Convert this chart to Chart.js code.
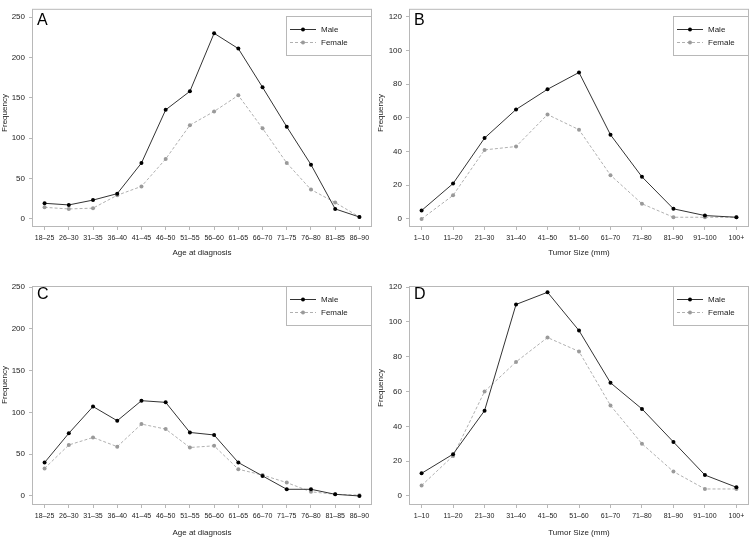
<!DOCTYPE html>
<html>
<head>
<meta charset="utf-8">
<script src="https://cdn.jsdelivr.net/npm/chart.js@4"></script>
<style>
  body { margin: 0; background: #fff; }
  #wrap { position: relative; width: 753px; height: 537px; }
  canvas { position: absolute; }
</style>
</head>
<body>
<div id="wrap">
  <canvas id="panelA" width="376" height="268" style="left:0;top:0"></canvas>
  <canvas id="panelB" width="377" height="268" style="left:376px;top:0"></canvas>
  <canvas id="panelC" width="376" height="269" style="left:0;top:268px"></canvas>
  <canvas id="panelD" width="377" height="269" style="left:376px;top:268px"></canvas>
</div>
<script>
// categorias
const ageGroups = ['18–25', '26–30', '31–35', '36–40', '41–45', '46–50', '51–55',
  '56–60', '61–65', '66–70', '71–75', '76–80', '81–85', '86–90'];
const sizeGroups = ['1–10', '11–20', '21–30', '31–40', '41–50', '51–60', '61–70',
  '71–80', '81–90', '91–100', '100+'];

// painel A
const ageMaleA = [19, 17, 23, 31, 69, 135, 158, 230, 211, 163, 114, 67, 12, 2];
const ageFemaleA = [14, 12, 13, 29, 40, 74, 116, 133, 153, 112, 69, 36, 20, 2];
// painel B
const sizeMaleB = [5, 21, 48, 65, 77, 87, 50, 25, 6, 2, 1];
const sizeFemaleB = [0, 14, 41, 43, 62, 53, 26, 9, 1, 1, 1];
// painel C
const ageMaleC = [40, 75, 107, 90, 114, 112, 76, 73, 40, 24, 8, 8, 2, 0];
const ageFemaleC = [33, 61, 70, 59, 86, 80, 58, 60, 32, 25, 16, 5, 2, 1];
// painel D
const sizeMaleD = [13, 24, 49, 110, 117, 95, 65, 50, 31, 12, 5];
const sizeFemaleD = [6, 23, 60, 77, 91, 83, 52, 30, 14, 4, 4];

// marcas do eixo y
const ageTicks = [0, 50, 100, 150, 200, 250];
const sizeTicks = [0, 20, 40, 60, 80, 100, 120];

const boxColor = '#b8b8b8';
const textColor = '#222';
const fontFamily = '"Liberation Sans", Arial, Helvetica, sans-serif';

Chart.defaults.font.family = fontFamily;
Chart.defaults.color = textColor;

// caixa, letra, titulo y e legenda no estilo R
const panelDecor = {
  id: 'panelDecor',
  beforeDatasetsDraw(chart) {
    const { ctx, chartArea: ca } = chart;
    ctx.save();
    ctx.strokeStyle = boxColor;
    ctx.lineWidth = 1;
    ctx.strokeRect(ca.left + 0.5, ca.top + 0.5, ca.right - ca.left - 1, ca.bottom - ca.top - 1);
    ctx.restore();
  },
  afterDatasetsDraw(chart, args, o) {
    const { ctx, chartArea: ca, scales } = chart;
    ctx.save();
    // letra do painel
    ctx.fillStyle = '#000';
    ctx.font = '16px ' + fontFamily;
    ctx.textBaseline = 'alphabetic';
    ctx.fillText(o.letter, ca.left + 5, ca.top + o.letterDy);

    // titulo do eixo y
    ctx.save();
    ctx.translate(5, o.yTitleY);
    ctx.rotate(-Math.PI / 2);
    ctx.fillStyle = textColor;
    ctx.font = '8px ' + fontFamily;
    ctx.textAlign = 'center';
    ctx.textBaseline = 'middle';
    ctx.fillText('Frequency', 0, 0);
    ctx.restore();

    // legenda
    const top = Math.round(scales.y.getPixelForValue(o.legendAt)) - 1;
    const left = Math.round(ca.right - o.legendWidth);
    const h = 39;
    ctx.fillStyle = '#fff';
    ctx.fillRect(left, top, o.legendWidth, h);
    ctx.strokeStyle = boxColor;
    ctx.strokeRect(left + 0.5, top + 0.5, o.legendWidth - 1, h);
    chart.data.datasets.forEach((ds, i) => {
      const yy = top + 13 + i * 13;
      ctx.strokeStyle = ds.borderColor;
      ctx.lineWidth = 1;
      ctx.setLineDash(ds.borderDash || []);
      ctx.beginPath();
      ctx.moveTo(left + 4, yy + 0.5);
      ctx.lineTo(left + 30, yy + 0.5);
      ctx.stroke();
      ctx.setLineDash([]);
      ctx.fillStyle = ds.pointBackgroundColor;
      ctx.beginPath();
      ctx.arc(left + 17, yy + 0.5, 2, 0, Math.PI * 2);
      ctx.fill();
      ctx.fillStyle = textColor;
      ctx.font = '8px ' + fontFamily;
      ctx.textBaseline = 'middle';
      ctx.fillText(ds.label, left + 35, yy + 1);
    });
    ctx.restore();
  }
};

function toPoints(values) {
  return values.map((v, i) => ({ x: i, y: v }));
}

function makePanel(id, p) {
  const ctx = document.getElementById(id).getContext('2d');
  const n = p.labels.length;
  const ext = (n - 1) * 0.04;
  return new Chart(ctx, {
    type: 'line',
    data: {
      datasets: [{
        label: 'Male',
        data: toPoints(p.male),
        borderColor: '#333',
        borderWidth: 1,
        pointBackgroundColor: '#000',
        pointBorderColor: '#000',
        pointRadius: 2,
        pointBorderWidth: 0,
        tension: 0
      }, {
        label: 'Female',
        data: toPoints(p.female),
        borderColor: '#b0b0b0',
        borderWidth: 1,
        borderDash: [3, 2],
        pointBackgroundColor: '#9a9a9a',
        pointBorderColor: '#9a9a9a',
        pointRadius: 2,
        pointBorderWidth: 0,
        tension: 0
      }]
    },
    options: {
      responsive: false,
      animation: false,
      layout: { padding: { top: p.padTop, right: p.padRight, left: 0, bottom: 0 } },
      plugins: {
        legend: { display: false },
        tooltip: { enabled: false },
        panelDecor: {
          letter: p.letter,
          letterDy: p.letterDy,
          yTitleY: p.yTitleY,
          legendAt: p.yTicks[p.yTicks.length - 1],
          legendWidth: p.legendWidth
        }
      },
      scales: {
        x: {
          type: 'linear',
          min: -ext,
          max: n - 1 + ext,
          afterBuildTicks: s => { s.ticks = p.labels.map((_, i) => ({ value: i })); },
          afterFit: s => { s.height = p.xHeight; },
          ticks: {
            autoSkip: false,
            maxRotation: 0,
            minRotation: 0,
            padding: 4,
            font: { size: 7 },
            color: textColor,
            callback: v => p.labels[v]
          },
          grid: { drawOnChartArea: false, drawTicks: true, tickLength: 3, color: boxColor },
          border: { display: false },
          title: {
            display: true,
            text: p.xTitle,
            font: { size: 8, lineHeight: 1 },
            color: textColor,
            padding: { top: 0, bottom: p.titlePad }
          }
        },
        y: {
          min: p.yMin,
          max: p.yMax,
          afterBuildTicks: s => { s.ticks = p.yTicks.map(v => ({ value: v })); },
          afterFit: s => { s.width = p.yWidth; },
          ticks: { padding: 4, font: { size: 8 }, color: textColor },
          grid: { drawOnChartArea: false, drawTicks: true, tickLength: 3, color: boxColor },
          border: { display: false }
        }
      }
    },
    plugins: [panelDecor]
  });
}

makePanel('panelA', {
  letter: 'A', labels: ageGroups, male: ageMaleA, female: ageFemaleA,
  xTitle: 'Age at diagnosis', yTicks: ageTicks, yMin: -10.4, yMax: 260.4,
  padTop: 1, padRight: 2, yWidth: 32, xHeight: 41, titlePad: 11,
  legendWidth: 86, letterDy: 16, yTitleY: 113
});
makePanel('panelB', {
  letter: 'B', labels: sizeGroups, male: sizeMaleB, female: sizeFemaleB,
  xTitle: 'Tumor Size (mm)', yTicks: sizeTicks, yMin: -4.8, yMax: 124.8,
  padTop: 1, padRight: 1, yWidth: 33, xHeight: 41, titlePad: 11,
  legendWidth: 76, letterDy: 16, yTitleY: 113
});
makePanel('panelC', {
  letter: 'C', labels: ageGroups, male: ageMaleC, female: ageFemaleC,
  xTitle: 'Age at diagnosis', yTicks: ageTicks, yMin: -10.8, yMax: 251.2,
  padTop: 18, padRight: 2, yWidth: 32, xHeight: 32, titlePad: 0,
  legendWidth: 86, letterDy: 13, yTitleY: 117
});
makePanel('panelD', {
  letter: 'D', labels: sizeGroups, male: sizeMaleD, female: sizeFemaleD,
  xTitle: 'Tumor Size (mm)', yTicks: sizeTicks, yMin: -5.2, yMax: 120.6,
  padTop: 18, padRight: 1, yWidth: 33, xHeight: 32, titlePad: 0,
  legendWidth: 76, letterDy: 13, yTitleY: 120
});
</script>
</body>
</html>
